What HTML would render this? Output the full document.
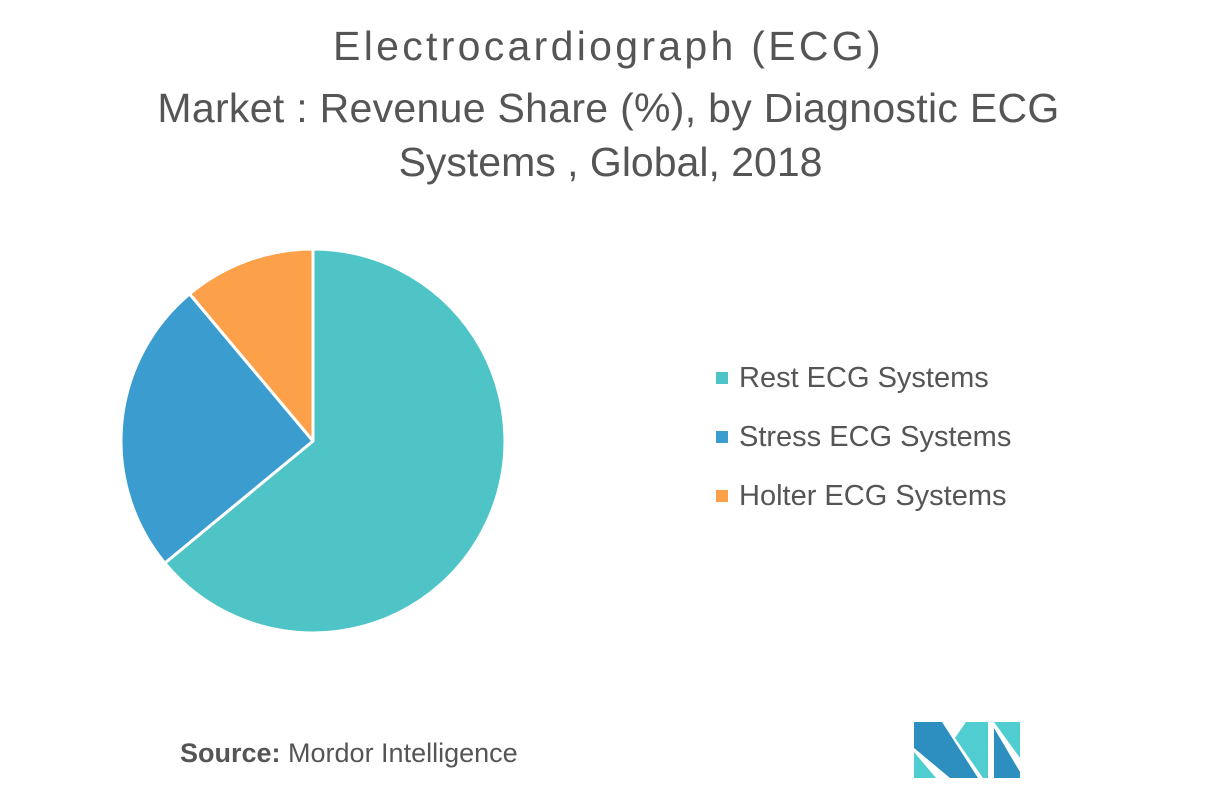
<!DOCTYPE html>
<html><head><style>
body{margin:0;background:#fff;width:1217px;height:791px;overflow:hidden;font-family:"Liberation Sans",sans-serif;}
.t{position:absolute;left:0;width:1217px;text-align:center;color:#555;font-size:41px;white-space:nowrap;}
.lg{position:absolute;left:716px;font-size:29px;color:#555;white-space:nowrap;}
.lg span{display:inline-block;width:12px;height:12px;margin-right:11px;vertical-align:3px;}
</style></head><body>
<div class="t" style="top:23px;letter-spacing:3.3px">Electrocardiograph (ECG)</div>
<div class="t" style="top:85px;letter-spacing:0.3px">Market : Revenue Share (%), by Diagnostic ECG</div>
<div class="t" style="top:139px;left:2px">Systems , Global, 2018</div>
<svg width="1217" height="791" style="position:absolute;left:0;top:0">
<g stroke="#fff" stroke-width="3" stroke-linejoin="round">
<path d="M313,441 L313,249 A192,192 0 1 1 164.8,563.1 Z" fill="#4fc4c6"/>
<path d="M313,441 L164.8,563.1 A192,192 0 0 1 189.6,293.9 Z" fill="#3b9ccf"/>
<path d="M313,441 L189.6,293.9 A192,192 0 0 1 313,249 Z" fill="#fca04a"/>
</g>
<g>
<polygon points="914,722 942,722 978,778 950,778 914,748" fill="#2d8fc0"/>
<polygon points="914,752 936,778 914,778" fill="#4fcdd0"/>
<polygon points="966,722 988,722 988,778 983,778 955,738" fill="#4fcdd0"/>
<polygon points="994,722 1020,722 1020,758 994,722" fill="#4fcdd0"/>
<polygon points="994,728 1020,772 1020,778 994,778" fill="#2d8fc0"/>
</g>
</svg>
<div class="lg" style="top:362px"><span style="background:#4fc4c6"></span>Rest ECG Systems</div>
<div class="lg" style="top:421px"><span style="background:#3b9ccf"></span>Stress ECG Systems</div>
<div class="lg" style="top:480px"><span style="background:#fca04a"></span>Holter ECG Systems</div>
<div style="position:absolute;left:180px;top:738px;font-size:27px;color:#555;white-space:nowrap"><b>Source:</b> Mordor Intelligence</div>
</body></html>
